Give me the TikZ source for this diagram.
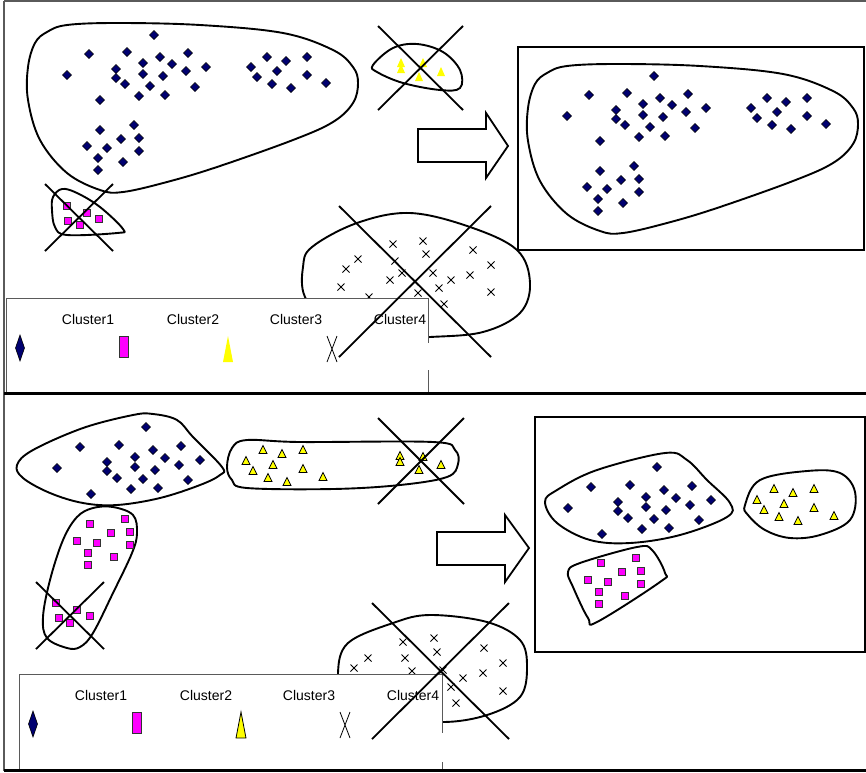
\documentclass[tikz,border=0pt]{standalone}
\usepackage{fontspec}
\setmainfont{Liberation Sans}
\definecolor{navy}{RGB}{0,0,112}
\definecolor{hotpink}{RGB}{255,0,255}
\definecolor{lemon}{RGB}{255,255,0}
\definecolor{rule}{RGB}{90,90,90}
\begin{document}
\begin{tikzpicture}[x=1pt,y=-1pt,
  hull/.style={line width=1.9pt, line join=round},
  strike/.style={line width=1.8pt},
  diam/.style={fill=navy, draw=black, line width=0.6pt},
  sq/.style={fill=hotpink, draw=black!80, line width=0.8pt},
  trflat/.style={fill=lemon},
  trline/.style={fill=lemon, draw=black, line width=0.8pt},
  xm/.style={line width=0.8pt},
  box/.style={draw=black, line width=1.5pt},
  legbox/.style={fill=white, draw=rule, line width=1pt},
  legtext/.style={font=\fontsize{14}{16}\selectfont, inner sep=0pt},
  blockarrow/.style={fill=white, draw=black, line width=1.8pt, line join=miter}]
\useasboundingbox (0,0) rectangle (866,772);

% ---------- frame ----------
\draw[rule, line width=1.4pt] (4,1) -- (866,1);
\draw[rule, line width=1.8pt] (4,1) -- (4,771);
\draw[black, line width=3pt] (4,393) -- (866,393);
\draw[black, line width=3pt] (4,770.5) -- (866,770.5);

% ================= upper panel =================
% big cluster of diamonds (drawn again, shifted, inside the result box)
\newcommand{\bigcluster}{%
  \draw[hull] plot[smooth cycle, tension=0.6] coordinates {
    (47,32) (67,25) (117,23) (200,25) (283,33) (333,50) (353,67) (358,83)
    (353,103) (333,122) (293,140) (217,167) (167,182) (123,192) (100,190)
    (67,173) (40,140) (28,100) (28,67) (35,43)};
  \foreach \x/\y in {154/35,89/54,127/52,143/63,160/57,188/53,172/64,206/67,
      186/71,116/69,116/78,143/74,163/76,125/84,150/86,195/87,139/96,165/95,
      67/75,100/100,251/67,267/57,286/61,307/57,277/71,257/77,307/75,272/84,
      291/88,326/83,100/130,134/125,121/139,139/138,87/146,107/148,139/151,
      98/158,123/162,98/170}
    \path[diam] (\x,\y) +(0,-4.5) -- +(4.5,0) -- +(0,4.5) -- +(-4.5,0) -- cycle;}
\bigcluster

% small magenta cluster, struck out
\draw[hull] plot[smooth cycle, tension=0.6] coordinates {
  (53,197) (62,189) (77,193) (100,207) (123,229) (117,233) (67,235) (55,227) (52,210)};
\foreach \x/\y in {67/206,87/213,68/221,80/225,99/219}
  \path[sq] (\x-3.3,\y-3.3) rectangle (\x+3.3,\y+3.3);
\draw[strike] (45,184) -- (113,251);
\draw[strike] (113,184) -- (45,251);

% small yellow cluster, struck out
\draw[hull] plot[smooth cycle, tension=0.6] coordinates {
  (373,65) (393,48) (417,44) (443,52) (460,70) (460,88) (440,90) (403,83) (377,72)};
\foreach \x/\y in {401/63,401/69,423/63,419/77,441/72}
  \path[trflat] (\x,\y) +(-4,4) -- +(0,-5) -- +(4,4) -- cycle;
\draw[strike] (378,26) -- (463,110);
\draw[strike] (463,26) -- (378,110);

% arrow to the result
\draw[blockarrow] (418,129) -- (486,129) -- (486,113) -- (508,146)
  -- (486,178) -- (486,162) -- (418,162) -- cycle;

% result box
\draw[box] (518,47) rectangle (864,250);
\begin{scope}[shift={(500,41)}]
  \bigcluster
\end{scope}

% cluster of crosses, struck out
\draw[hull] plot[smooth cycle, tension=0.6] coordinates {
  (305,297) (303,267) (312,247) (357,223) (410,213) (470,227) (517,250)
  (530,283) (520,313) (483,332) (430,337) (380,338) (330,325)};
\foreach \x/\y in {393/244,423/241,426/254,358/259,346/269,341/287,395/261,
    402/273,390/280,433/273,451/280,439/288,473/250,491/265,470/275,491/292,
    418/293,444/304,369/297}
  \draw[xm] (\x,\y) +(-3.5,-3.5) -- +(3.5,3.5) +(-3.5,3.5) -- +(3.5,-3.5);

% legend
\newcommand{\legendbody}[1]{%
  \node[legtext] (c1) at (82,21) {Cluster1};
  \node[legtext] (c2) at (187,21) {Cluster2};
  \node[legtext] (c3) at (290,21) {Cluster3};
  \node[legtext] (c4) at (394,21) {Cluster4};
  \path[diam] (14,37) -- (18.5,50) -- (14,63) -- (9.5,50) -- cycle;
  \path[sq] (113,38) rectangle (122,59);
  \path[#1] (217,64) -- (222,38) -- (227,64) -- cycle;
  \draw[line width=0.8pt] (321,38) -- (331,64) (331,38) -- (321,64);}
\fill[white] (6,298) rectangle (428,392);
\draw[rule, line width=1pt] (6,392) -- (6,298) -- (428,298) -- (428,343);
\draw[rule, line width=1pt] (428,370) -- (428,392);
\begin{scope}[shift={(6,298)}]
  \legendbody{trflat}
\end{scope}
\draw[strike] (339,206) -- (491,357);
\draw[strike] (491,206) -- (339,357);

% ================= lower panel =================
% navy cluster
\draw[hull] plot[smooth cycle, tension=0.6] coordinates {
  (17,465) (33,450) (83,428) (133,415) (153,414) (177,420) (193,437)
  (222,467) (220,475) (200,485) (160,498) (117,505) (83,503) (50,493) (23,478)};
\newcommand{\navyset}{%
  \foreach \x/\y in {146/427,80/447,119/445,153/450,181/446,135/457,165/458,
      107/462,200/460,57/468,107/471,135/467,179/465,155/470,117/478,143/479,
      188/480,131/489,158/488,91/494}
    \path[diam] (\x,\y) +(0,-4.5) -- +(4.5,0) -- +(0,4.5) -- +(-4.5,0) -- cycle;}
\navyset

% yellow cluster, partly struck out
\draw[hull] plot[smooth cycle, tension=0.6] coordinates {
  (227,467) (232,448) (247,440) (300,442) (433,442) (455,450) (458,464)
  (447,477) (400,485) (333,489) (247,488) (232,480)};
\newcommand{\yellowset}{%
  \foreach \x/\y in {263/450,282/454,303/450,246/461,273/465,253/471,303/469,
      268/478,287/482,323/477}
    \path[trline] (\x,\y) +(-4,3.5) -- +(0,-4.5) -- +(4,3.5) -- cycle;}
\yellowset
\foreach \x/\y in {400/456,400/462,423/457,419/470,441/465}
  \path[trline] (\x,\y) +(-4,3.5) -- +(0,-4.5) -- +(4,3.5) -- cycle;
\draw[strike] (378,418) -- (464,504);
\draw[strike] (464,418) -- (378,504);

% magenta cluster, partly struck out
\draw[hull] plot[smooth cycle, tension=0.6] coordinates {
  (113,507) (133,515) (137,533) (132,553) (113,593) (93,633) (80,647)
  (67,648) (47,638) (43,617) (50,580) (63,540) (77,517) (93,508)};
\newcommand{\pinkset}{%
  \foreach \x/\y in {90/524,125/519,111/533,130/532,77/541,97/543,130/545,
      88/553,114/557,88/565}
    \path[sq] (\x-3.3,\y-3.3) rectangle (\x+3.3,\y+3.3);}
\pinkset
\foreach \x/\y in {56/603,77/610,59/618,70/623,90/616}
  \path[sq] (\x-3.3,\y-3.3) rectangle (\x+3.3,\y+3.3);
\draw[strike] (36,582) -- (104,649);
\draw[strike] (104,582) -- (36,649);

% arrow to the result
\draw[blockarrow] (437,532) -- (505,532) -- (505,515) -- (529,548)
  -- (505,582) -- (505,565) -- (437,565) -- cycle;

% result box
\draw[box] (535,417) rectangle (865,652);
\draw[hull] plot[smooth cycle, tension=0.6] coordinates {
  (545,502) (557,490) (597,470) (665,453) (687,460) (707,480) (730,503)
  (727,517) (680,535) (630,543) (590,540) (557,523)};
\begin{scope}[shift={(511,40)}]
  \navyset
\end{scope}
\draw[hull] plot[smooth cycle, tension=0.6] coordinates {
  (745,505) (760,480) (807,471) (840,473) (855,492) (850,520) (820,535)
  (790,538) (765,530) (748,515)};
\begin{scope}[shift={(511,39)}]
  \yellowset
\end{scope}
\draw[hull] plot[smooth cycle, tension=0.6] coordinates {
  (568,572) (580,563) (637,547) (652,550) (665,573) (660,582) (597,622)
  (588,618) (573,587)};
\begin{scope}[shift={(511,39)}]
  \pinkset
\end{scope}

% cluster of crosses, struck out
\draw[hull] plot[smooth cycle, tension=0.6] coordinates {
  (338,673) (348,643) (393,623) (430,615) (487,622) (520,640) (527,667)
  (520,697) (487,715) (442,722) (390,715) (345,700)};
\foreach \x/\y in {403/642,434/638,437/652,368/658,354/668,405/658,412/671,
    484/648,503/663,483/673,463/678,451/687,456/703,503/691,443/670}
  \draw[xm] (\x,\y) +(-3.5,-3.5) -- +(3.5,3.5) +(-3.5,3.5) -- +(3.5,-3.5);

% legend
\fill[white] (19,674) rectangle (442,769);
\draw[rule, line width=1pt] (19,769) -- (19,674) -- (442,674) -- (442,733);
\draw[rule, line width=1pt] (442,762) -- (442,769);
\begin{scope}[shift={(19,674)}]
  \legendbody{trline}
\end{scope}
\draw[strike] (372,603) -- (509,739);
\draw[strike] (509,603) -- (372,739);
\end{tikzpicture}
\end{document}
